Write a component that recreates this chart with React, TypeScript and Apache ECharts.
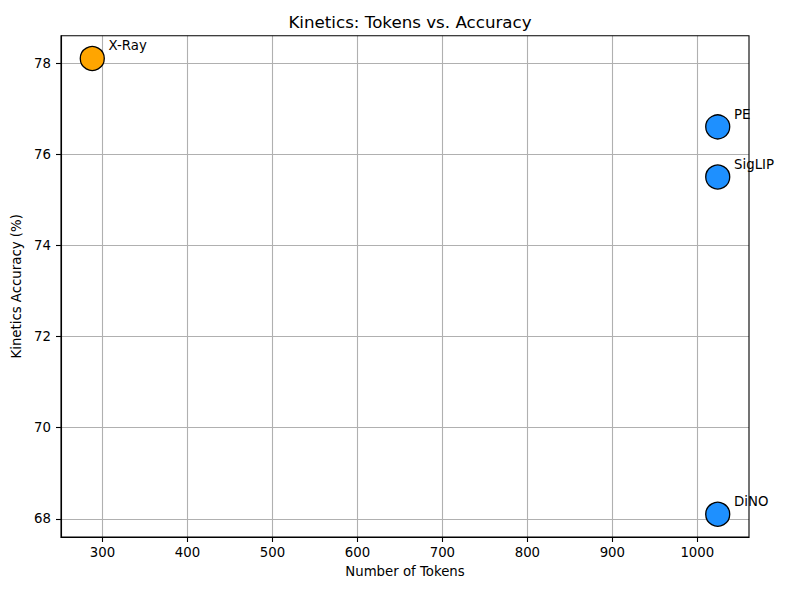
import React, { useEffect, useRef } from "react";
import * as echarts from "echarts";

const models = ["X-Ray", "PE", "SigLIP", "DiNO"];
const tokens = [288, 1024, 1024, 1024];
const accuracy = [78.1, 76.6, 75.5, 68.1];
const pointColors = ["#FFA500", "#1E90FF", "#1E90FF", "#1E90FF"];
const xTicks = [300, 400, 500, 600, 700, 800, 900, 1000];
const yTicks = [68, 70, 72, 74, 76, 78];

const FONT = "DejaVu Sans";

export default function App() {
  const ref = useRef<HTMLDivElement>(null);
  useEffect(() => {
    if (!ref.current) return;
    const chart = echarts.init(ref.current, undefined, { renderer: "svg" });
    const data = models.map((m, i) => ({
      name: m,
      value: [tokens[i], accuracy[i]],
      itemStyle: { color: pointColors[i] },
    }));
    chart.setOption({
      animation: false,
      backgroundColor: "#ffffff",
      textStyle: { fontFamily: FONT },
      title: {
        text: "Kinetics: Tokens vs. Accuracy",
        left: 405,
        textAlign: "center",
        top: 8,
        textStyle: { fontFamily: FONT, fontSize: 16.7, fontWeight: "normal", color: "#000" },
      },
      grid: { left: 61, right: 44, top: 35.7, bottom: 58, containLabel: false },
      xAxis: {
        type: "value",
        min: 251.2,
        max: 1060.8,
        name: "Number of Tokens",
        nameLocation: "middle",
        nameGap: 28,
        nameTextStyle: { fontFamily: FONT, fontSize: 13.3, color: "#000" },
        axisLine: { show: true, onZero: false, lineStyle: { color: "#000", width: 1.1 } },
        axisTick: { show: true, length: 5, lineStyle: { color: "#000", width: 1.1 }, customValues: xTicks },
        axisLabel: {
          margin: 9,
          fontFamily: FONT,
          fontSize: 13.3,
          color: "#000",
          customValues: xTicks,
          formatter: (v: number) => String(v),
        },
        splitLine: { show: true, lineStyle: { color: "#b0b0b0", width: 1.1 } },
      },
      yAxis: {
        type: "value",
        min: 67.6,
        max: 78.6,
        name: "Kinetics Accuracy (%)",
        nameLocation: "middle",
        nameGap: 28,
        nameTextStyle: { fontFamily: FONT, fontSize: 13.3, color: "#000" },
        axisLine: { show: true, onZero: false, lineStyle: { color: "#000", width: 1.1 } },
        axisTick: { show: true, length: 5, lineStyle: { color: "#000", width: 1.1 }, customValues: yTicks },
        axisLabel: {
          margin: 10,
          fontFamily: FONT,
          fontSize: 13.3,
          color: "#000",
          customValues: yTicks,
          formatter: (v: number) => String(v),
        },
        splitLine: { show: true, lineStyle: { color: "#b0b0b0", width: 1.1 } },
      },
      graphic: [
        {
          type: "rect",
          shape: { x: 61, y: 35.7, width: 688, height: 501.3 },
          style: { fill: "none", stroke: "#000", lineWidth: 1.1 },
          z: 100,
          silent: true,
        },
      ],
      series: [
        {
          type: "scatter",
          data,
          symbol: "circle",
          symbolSize: 24,
          itemStyle: { borderColor: "#000", borderWidth: 1.3, opacity: 1 },
          label: {
            show: true,
            formatter: "{b}",
            position: [29, 0],
            align: "left",
            verticalAlign: "middle",
            fontFamily: FONT,
            fontSize: 13.3,
            color: "#000",
          },
          z: 10,
        },
      ],
    });
    return () => chart.dispose();
  }, []);
  return <div ref={ref} style={{ width: 793, height: 595, position: "absolute", left: 0, top: 0 }} />;
}
